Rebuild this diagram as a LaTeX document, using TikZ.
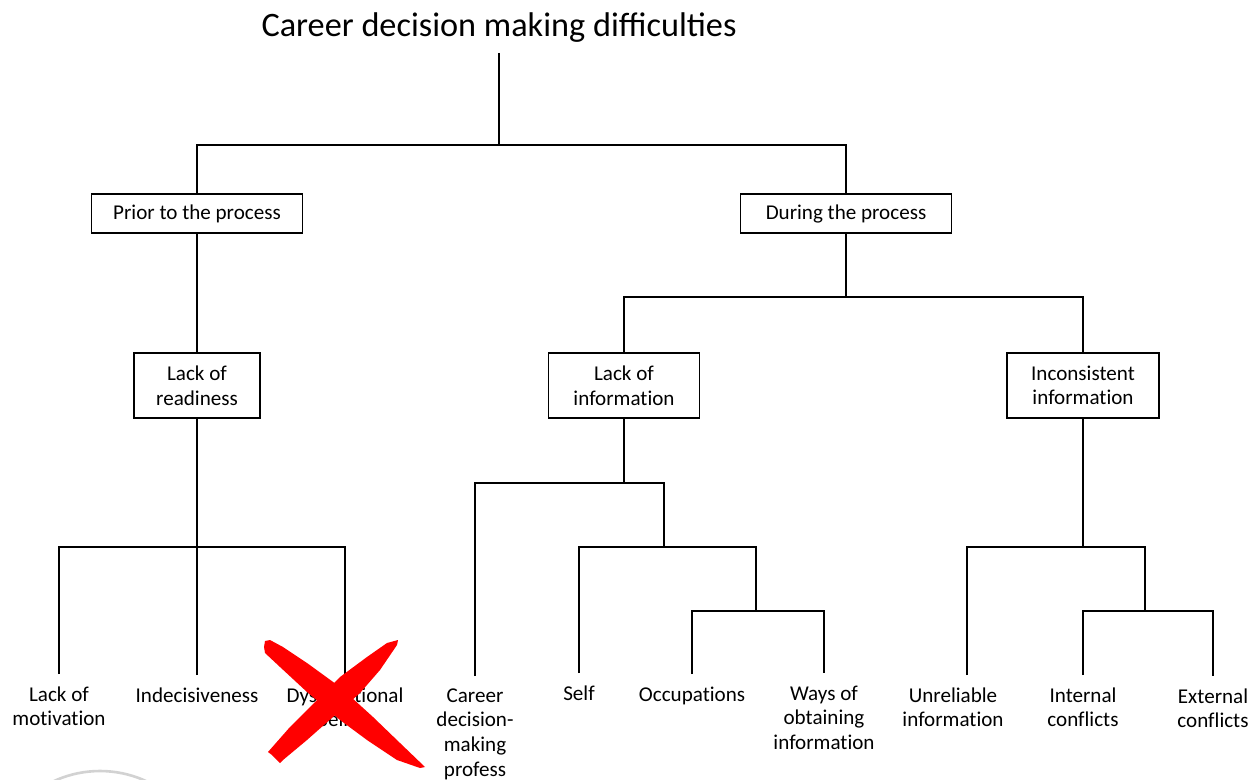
\documentclass[tikz,border=0pt]{standalone}
\usepackage{fontspec}
\setmainfont{Carlito}[Ligatures=NoCommon]
\usetikzlibrary{positioning}

\begin{document}
\begin{tikzpicture}[
    x = 0.02cm, y = -0.02cm, % one unit = one pixel, y going down
    line width = 0.7pt, % line style
    level/.style = {draw, line width = 0.9pt, align = center,
        font = \fontsize{12}{14}\selectfont, inner sep = 2pt},
    leaf/.style = {anchor = north, align = center,
        font = \fontsize{12}{14}\selectfont, inner xsep = 0pt, inner ysep = 6.8pt},
    cross/.style = {fill = red, draw = none}
    ]
    \useasboundingbox (0,0) rectangle (1251,780);

    % root
    \node[anchor=base, font=\fontsize{19.5}{23}\selectfont\addfontfeatures{Ligatures=Common}] (title) at (499,37) {Career decision making difficulties};

    % boxes
    \node[level, minimum width=4.22cm, minimum height=0.78cm] (prior) at (197,213.5) {Prior to the process};
    \node[level, minimum width=4.22cm, minimum height=0.78cm] (during) at (846,213.5) {During the process};
    \node[level, minimum width=2.52cm, minimum height=1.3cm] (readiness) at (197,385.5) {Lack of\\readiness};
    \node[level, minimum width=3.02cm, minimum height=1.3cm] (lackinfo) at (624,385.5) {Lack of\\information};
    \node[level, minimum width=3.04cm, minimum height=1.3cm] (inconsistent) at (1083,385.5) {Inconsistent\\information};

    % leaves
    \node[leaf] (motivation) at (59,674) {Lack of\\motivation};
    \node[leaf] (indecisive) at (197,675) {Indecisiveness};
    \node[leaf] (dysfunctional) at (345,675) {Dysfunctional\\beliefs};
    \node[leaf] (cdmp) at (475,676) {Career\\decision-\\making\\profess};
    \node[leaf] (self) at (579,673) {Self};
    \node[leaf] (occupations) at (692,674) {Occupations};
    \node[leaf] (ways) at (824,673) {Ways of\\obtaining\\information};
    \node[leaf] (unreliable) at (953,675) {Unreliable\\information};
    \node[leaf] (internal) at (1083,675) {Internal\\conflicts};
    \node[leaf] (external) at (1213,676) {External\\conflicts};

    % junctions
    \coordinate (b0) at (499,145);
    \coordinate (b1) at (846,297);
    \coordinate (b2) at (197,547);
    \coordinate (b3) at (624,483);
    \coordinate (b4) at (664,547);
    \coordinate (b5) at (756,611);
    \coordinate (b6) at (1083,547);
    \coordinate (b7) at (1145,611);

    \draw[shorten <=2pt] (title) -- (b0);
    \draw (prior) |- (b0) -| (during);
    \draw (prior) -- (readiness);
    \draw (during) -- (b1);
    \draw (lackinfo) |- (b1) -| (inconsistent);

    \draw (readiness) -- (b2);
    \draw (motivation) |- (b2) -| (dysfunctional);
    \draw (indecisive) -- (b2);

    \draw (lackinfo) -- (b3);
    \draw (cdmp) |- (b3) -| (b4);
    \draw (self) |- (b4) -| (b5);
    \draw (occupations) |- (b5) -| (ways);

    \draw (inconsistent) -- (b6);
    \draw ([xshift=0.28cm]unreliable.north) |- (b6) -| (b7);
    \draw (internal) |- (b7) -| (external);

    % grey ring, cut by the page
    \draw[gray!35, line width=1.5pt] (100,881) circle (2.2cm);

    % red cross
    \fill[cross] (265,641) -- (270,640) -- (283,647) -- (307,663) -- (340,687) -- (373,717)
        -- (400,743) -- (425,767) -- (420,768) -- (397,760) -- (367,740) -- (340,720)
        -- (307,692) -- (280,667) -- (265,653) -- (264,647) -- cycle;
    \fill[cross] (398,640) -- (397,645) -- (380,670) -- (360,693) -- (333,717) -- (307,740)
        -- (283,760) -- (280,763) -- (272,755) -- (268,752) -- (290,727) -- (317,700)
        -- (340,677) -- (367,657) -- (387,643) -- cycle;
\end{tikzpicture}
\end{document}
